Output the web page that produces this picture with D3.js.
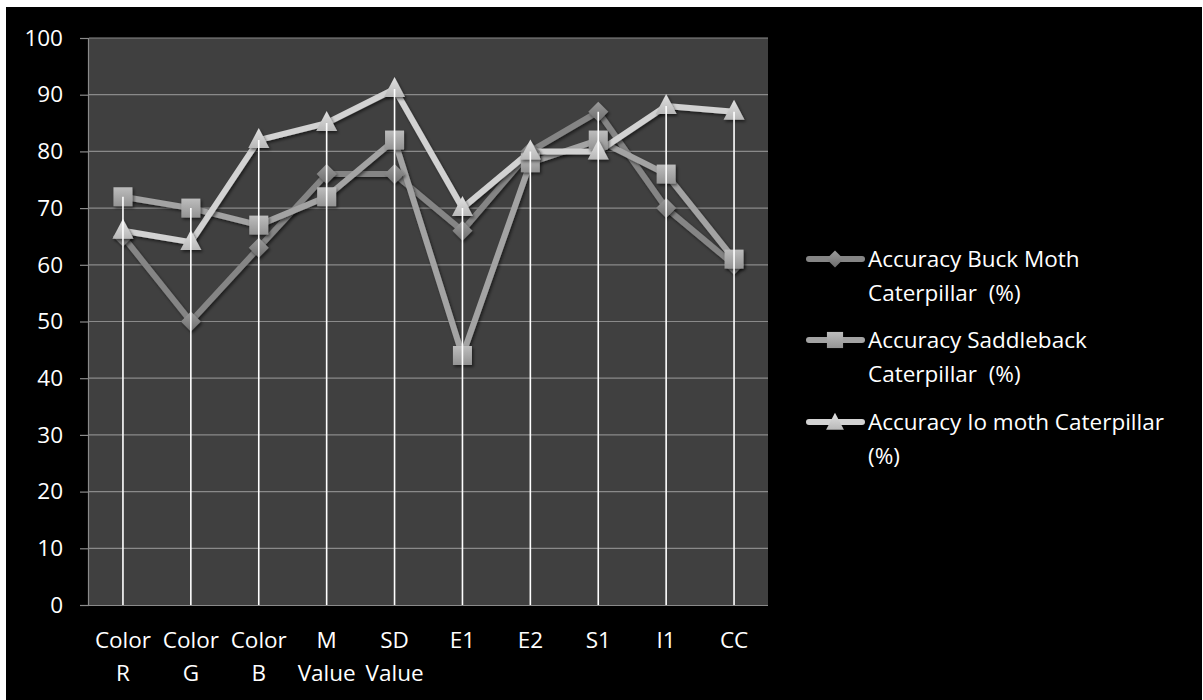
<!DOCTYPE html>
<html><head><meta charset="utf-8">
<script src="https://cdn.jsdelivr.net/npm/d3@7"></script>
<style>
html,body{margin:0;padding:0;background:#fff;}
svg{display:block;}
text{font-family:"Open Sans",sans-serif;fill:#fff;white-space:pre;}
</style></head>
<body>
<svg id="c" width="1203" height="700"></svg>
<script>
const categories = [["Color","R"],["Color","G"],["Color","B"],["M","Value"],["SD","Value"],["E1"],["E2"],["S1"],["I1"],["CC"]];
const seriesNames = [["Accuracy Buck Moth","Caterpillar  (%)"],["Accuracy Saddleback","Caterpillar  (%)"],["Accuracy Io moth Caterpillar","(%)"]];
const buckMoth   = [65,50,63,76,76,66,80,87,70,60];
const saddleback = [72,70,67,72,82,44,78,82,76,61];
const ioMoth     = [66,64,82,85,91,70,80,80,88,87];
const yTicks = [0,10,20,30,40,50,60,70,80,90,100];

const series = [
  {name:seriesNames[0], values:buckMoth, color:"#858585", marker:"diamond", light:"#9a9a9a", dark:"#6e6e6e"},
  {name:seriesNames[1], values:saddleback, color:"#a3a3a3", marker:"square", light:"#bdbdbd", dark:"#939393"},
  {name:seriesNames[2], values:ioMoth, color:"#d2d2d2", marker:"triangle", light:"#e2e2e2", dark:"#b8b8b8"}
];

const FS = "22.5px";
const svg = d3.select("#c");
svg.append("rect").attr("x",6).attr("y",7).attr("width",1196).attr("height",693).attr("fill","#000");

const defs = svg.append("defs");
const f = defs.append("filter").attr("id","sh").attr("x","-50%").attr("y","-50%").attr("width","200%").attr("height","200%");
f.append("feDropShadow").attr("dx",1.5).attr("dy",2).attr("stdDeviation",1.8).attr("flood-color","#000").attr("flood-opacity",0.55);
series.forEach((s,i)=>{
  const g = defs.append("linearGradient").attr("id","g"+i).attr("x1",0).attr("y1",0).attr("x2",0).attr("y2",1);
  g.append("stop").attr("offset","0%").attr("stop-color",s.light);
  g.append("stop").attr("offset","100%").attr("stop-color",s.dark);
});

const L=89, R=768, T=38, B=605;
const x = d3.scaleBand().domain(d3.range(categories.length)).range([L,R]);
const y = d3.scaleLinear().domain([0,100]).range([B,T]);
const cx = i => x(i)+x.bandwidth()/2;

svg.append("rect").attr("x",L).attr("y",T).attr("width",R-L).attr("height",B-T).attr("fill","#404040");

// gridlines
svg.append("g").selectAll("line").data(yTicks.filter(d=>d>0)).join("line")
  .attr("x1",L).attr("x2",R).attr("y1",d=>y(d)).attr("y2",d=>y(d))
  .attr("stroke","#8a8a8a").attr("stroke-width",1.2);

// y axis
const ya = svg.append("g").attr("transform",`translate(${L},0)`)
  .call(d3.axisLeft(y).tickValues(yTicks).tickSize(9).tickPadding(17));
ya.select(".domain").attr("stroke","#8a8a8a").attr("stroke-width",1.2).attr("d",`M-0.5,${T}V${B}`);
ya.selectAll(".tick line").attr("stroke","#8a8a8a").attr("stroke-width",1.2);
ya.selectAll(".tick text").attr("fill","#fff").style("font-size",FS).style("font-family","'Open Sans',sans-serif");

// x axis
const xa = svg.append("g").attr("transform",`translate(0,${B})`)
  .call(d3.axisBottom(x).tickSize(0).tickFormat(""));
xa.select(".domain").attr("stroke","#8a8a8a").attr("stroke-width",1.2).attr("d",`M${L-9},0.5H${R}`);
xa.selectAll(".tick").each(function(i){
  const t = d3.select(this).append("text").attr("text-anchor","middle").style("font-size",FS);
  categories[i].forEach((ln,k)=>t.append("tspan").attr("x",0).attr("y",43+k*33).text(ln));
});

// lines
const line = d3.line().x((d,i)=>cx(i)).y(d=>y(d));
series.forEach(s=>{
  svg.append("path").datum(s.values).attr("d",line).attr("fill","none")
    .attr("stroke",s.color).attr("stroke-width",6).attr("stroke-linejoin","round").attr("filter","url(#sh)");
});

function markerPath(type){
  if(type==="diamond") return "M0,-10L10,0L0,10L-10,0Z";
  if(type==="square") return "M-9.5,-9.5H9.5V9.5H-9.5Z";
  return "M0,-12L10.5,8H-10.5Z";
}
series.forEach((s,si)=>{
  svg.append("g").selectAll("path").data(s.values).join("path")
    .attr("transform",(d,i)=>`translate(${cx(i)},${y(d)})`)
    .attr("d",markerPath(s.marker)).attr("fill",`url(#g${si})`).attr("filter","url(#sh)");
});

// drop lines
const maxVals = categories.map((c,i)=>d3.max(series,s=>s.values[i]));
svg.append("g").selectAll("line").data(maxVals).join("line")
  .attr("x1",(d,i)=>cx(i)).attr("x2",(d,i)=>cx(i)).attr("y1",d=>y(d)).attr("y2",B)
  .attr("stroke","#fff").attr("stroke-width",1.6);

// legend
const legY = [259,340,422];
series.forEach((s,i)=>{
  const g = svg.append("g").attr("transform",`translate(0,${legY[i]})`);
  g.append("line").attr("x1",809).attr("x2",862).attr("y1",0).attr("y2",0)
    .attr("stroke",s.color).attr("stroke-width",6).attr("stroke-linecap","round");
  g.append("path").attr("d",markerPath(s.marker))
    .attr("fill",`url(#g${i})`).attr("transform", s.marker==="triangle"?"translate(835,1) scale(0.85)":"translate(835,0) scale(0.85)");
  const t = g.append("text").style("font-size",FS);
  s.name.forEach((ln,k)=>t.append("tspan").attr("x",868).attr("y",8+k*34).text(ln));
});
</script>
</body></html>
